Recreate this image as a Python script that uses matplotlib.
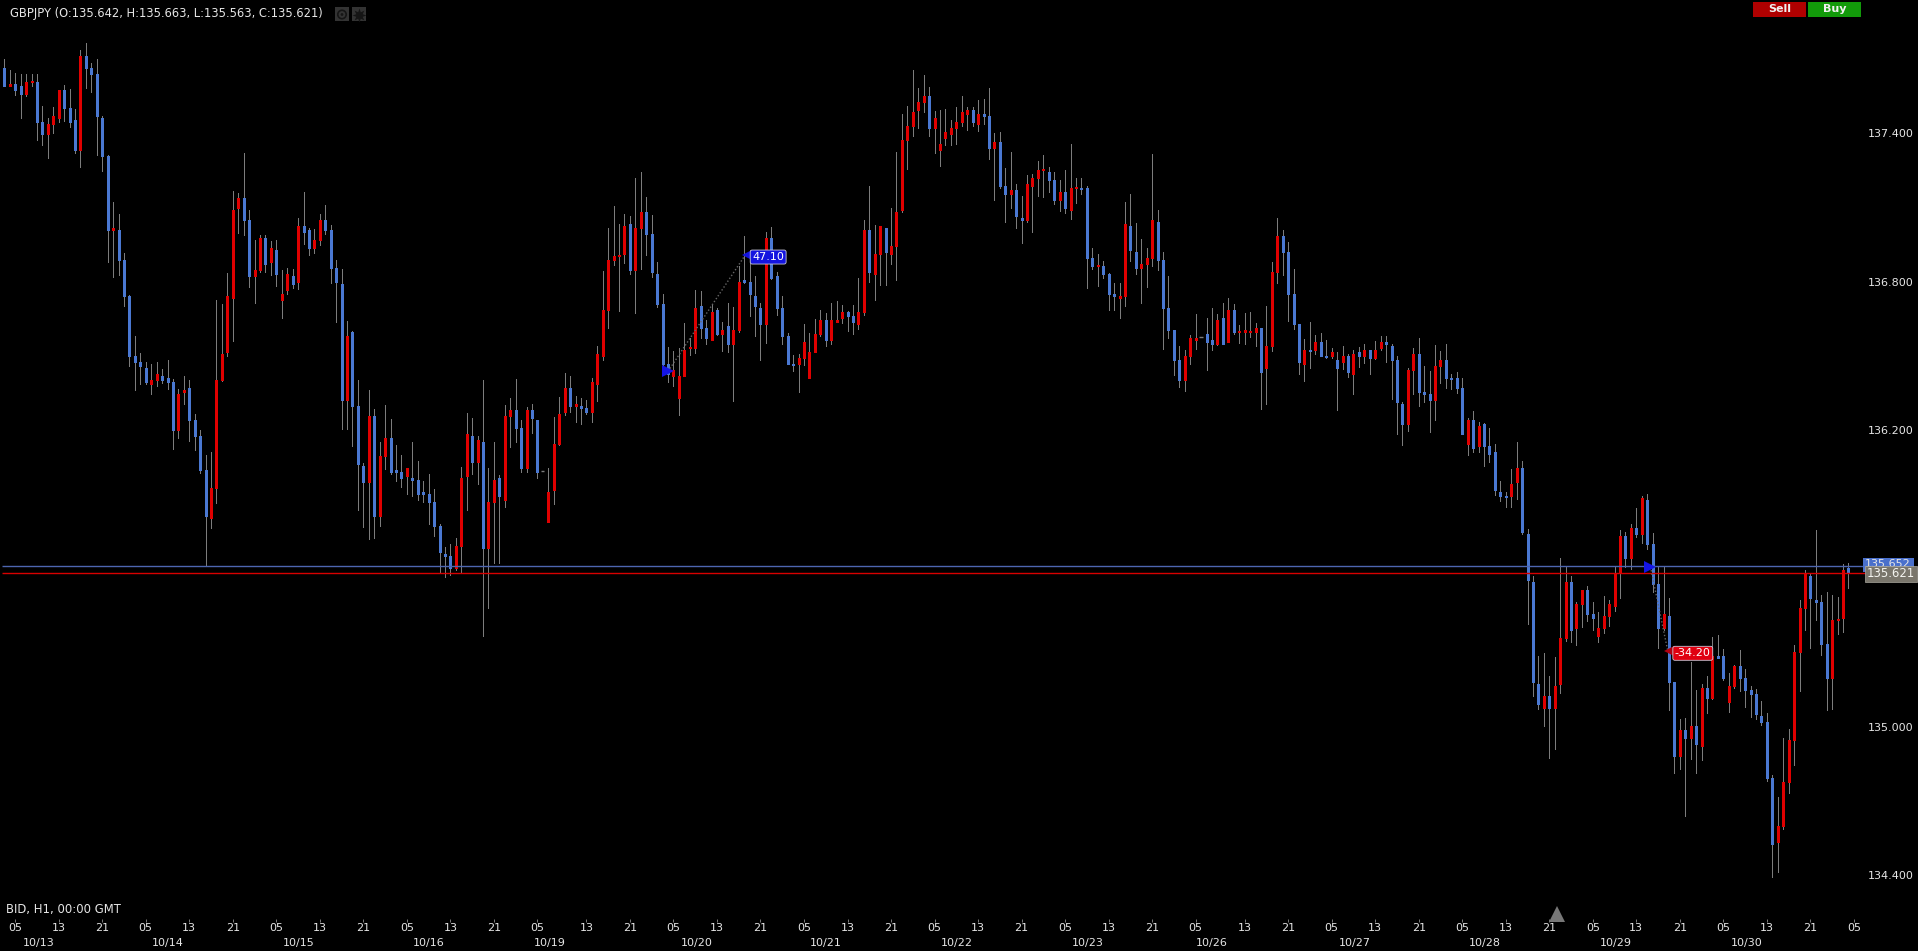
import numpy as np
import matplotlib
matplotlib.use("Agg")
import matplotlib.pyplot as plt
from matplotlib.patches import Rectangle, Circle

W, H = 1918, 951

#candle data, hourly bars
highs = [
137.700,137.657,137.643,137.641,137.641,137.641,137.641,137.511,137.463,137.507,
137.576,137.596,137.580,137.499,137.738,137.766,137.684,137.700,137.471,137.313,
137.123,137.075,136.917,136.747,136.580,136.510,136.475,136.467,136.475,136.447,
136.483,136.407,136.366,136.419,136.402,136.265,136.200,136.099,136.111,136.726,
136.710,136.834,137.168,137.160,137.321,137.091,136.969,136.990,136.990,136.965,
136.969,136.848,136.856,136.852,137.058,137.164,137.018,137.014,137.075,137.111,
137.030,136.889,136.852,136.641,136.601,136.402,136.067,136.362,136.285,136.152,
136.301,136.245,136.140,136.099,136.047,136.152,136.075,135.994,136.022,135.962,
135.820,135.727,135.739,135.764,136.051,136.269,136.249,136.176,136.403,136.047,
136.152,136.018,136.301,136.330,136.407,136.241,136.293,136.306,136.241,136.033,
136.047,136.253,136.334,136.431,136.419,136.338,136.330,136.322,136.411,136.540,
136.844,137.018,137.107,137.034,137.074,137.066,137.220,137.244,137.143,137.070,
136.880,136.751,136.536,136.520,136.532,136.633,136.573,136.767,136.763,136.646,
136.706,136.694,136.637,136.714,136.698,136.864,136.985,136.929,136.823,136.714,
137.001,137.022,136.840,136.743,136.593,136.504,136.508,136.629,136.593,136.650,
136.686,136.674,136.714,136.722,136.706,136.682,136.706,136.815,137.050,137.187,
137.030,137.026,137.018,137.098,137.325,137.479,137.512,137.657,137.584,137.637,
137.588,137.491,137.495,137.499,137.455,137.507,137.552,137.507,137.507,137.536,
137.540,137.584,137.402,137.406,137.261,137.326,137.196,137.148,137.233,137.237,
137.289,137.313,137.265,137.245,137.212,137.253,137.358,137.220,137.220,137.188,
136.937,136.913,136.885,136.836,136.796,136.796,137.123,137.156,137.038,136.974,
136.937,137.317,137.091,136.921,136.824,136.606,136.540,136.523,136.584,136.669,
136.575,136.653,136.693,136.669,136.714,136.734,136.710,136.625,136.673,136.677,
136.633,136.612,136.701,136.879,137.059,137.010,136.962,136.852,136.630,136.568,
136.637,136.584,136.592,136.564,136.532,136.516,136.541,136.508,136.524,136.537,
136.549,136.524,136.561,136.581,136.581,136.549,136.500,136.314,136.452,136.532,
136.573,136.460,136.439,136.545,136.520,136.549,136.427,136.435,136.411,136.249,
136.278,136.233,136.229,136.209,136.144,135.995,135.950,136.043,136.152,136.075,
135.800,135.610,135.287,135.299,135.206,135.282,135.683,135.646,135.610,135.505,
135.553,135.570,135.505,135.464,135.529,135.513,135.650,135.796,135.788,135.820,
135.885,135.934,135.942,135.784,135.646,135.650,135.521,135.180,135.031,135.035,
135.261,135.148,135.172,135.205,135.362,135.370,135.314,135.217,135.249,135.310,
135.233,135.164,135.152,135.104,135.055,134.804,134.715,134.954,134.990,135.330,
135.512,135.634,135.618,135.796,135.533,135.545,135.533,135.525,135.659,135.663]

lows = [
137.590,137.592,137.556,137.463,137.552,137.592,137.374,137.354,137.301,137.402,
137.447,137.451,137.426,137.321,137.265,137.584,137.568,137.313,137.248,136.880,
136.820,136.828,136.703,136.459,136.362,136.386,136.386,136.346,136.378,136.390,
136.366,136.123,136.168,136.305,136.156,136.119,136.026,135.653,135.804,135.905,
136.398,136.500,136.560,136.998,136.990,136.779,136.715,136.840,136.840,136.828,
136.783,136.654,136.751,136.775,136.771,136.953,136.909,136.917,136.949,136.994,
136.796,136.638,136.204,136.204,136.136,135.877,135.808,135.759,135.764,135.812,
136.043,136.022,135.994,135.970,135.941,135.933,135.917,135.909,135.820,135.772,
135.621,135.606,135.614,135.635,135.626,135.877,136.022,135.982,135.367,135.481,
135.663,135.663,135.889,136.132,136.152,136.031,136.031,136.188,136.006,136.033,
135.828,135.901,136.140,136.261,136.273,136.233,136.225,136.265,136.233,136.318,
136.484,136.613,136.868,136.682,136.876,136.832,136.674,136.852,136.908,136.819,
136.698,136.443,136.395,136.379,136.261,136.419,136.504,136.512,136.573,136.548,
136.565,136.585,136.520,136.516,136.318,136.597,136.795,136.662,136.581,136.484,
136.553,136.811,136.666,136.548,136.468,136.439,136.354,136.464,136.411,136.516,
136.581,136.540,136.548,136.637,136.633,136.601,136.589,136.609,136.666,136.799,
136.726,136.787,136.787,136.872,136.807,137.083,137.257,137.390,137.423,137.487,
137.390,137.321,137.269,137.354,137.354,137.358,137.431,137.414,137.431,137.410,
137.439,137.297,137.131,137.180,137.042,137.099,137.018,136.958,137.042,137.002,
137.148,137.144,137.164,137.115,137.087,137.079,137.055,137.119,137.156,136.776,
136.852,136.784,136.816,136.687,136.687,136.654,136.703,136.885,136.832,136.715,
136.780,136.865,136.848,136.529,136.573,136.424,136.374,136.358,136.467,136.528,
136.575,136.443,136.523,136.544,136.548,136.556,136.588,136.552,136.548,136.576,
136.540,136.285,136.305,136.519,136.796,136.828,136.642,136.610,136.428,136.398,
136.451,136.507,136.499,136.491,136.492,136.282,136.448,136.415,136.346,136.456,
136.472,136.427,136.488,136.524,136.476,136.326,136.185,136.140,136.197,136.346,
136.298,136.314,136.193,136.241,136.391,136.371,136.367,136.351,136.185,136.100,
136.112,136.112,136.055,136.071,135.938,135.914,135.890,135.890,135.922,135.780,
135.416,135.125,135.072,135.003,134.874,134.910,135.137,135.347,135.343,135.331,
135.404,135.428,135.392,135.343,135.380,135.408,135.468,135.521,135.646,135.638,
135.768,135.743,135.719,135.545,135.319,135.392,135.068,134.812,134.829,134.639,
134.869,134.812,134.865,135.055,135.112,135.277,135.188,135.059,135.156,135.144,
135.079,135.039,135.031,135.006,134.780,134.392,134.412,134.586,134.732,134.845,
135.144,135.392,135.319,135.432,135.291,135.068,135.072,135.375,135.384,135.563]

opens = [
137.665,137.592,137.600,137.592,137.560,137.608,137.608,137.447,137.398,137.439,
137.463,137.576,137.503,137.455,137.333,137.714,137.665,137.641,137.463,137.309,
137.010,137.010,136.889,136.743,136.500,136.475,136.451,136.386,136.402,136.419,
136.411,136.394,136.200,136.354,136.370,136.241,136.176,136.039,135.844,135.966,
136.402,136.516,136.735,137.099,137.139,137.050,136.824,136.848,136.978,136.880,
136.929,136.727,136.767,136.824,136.800,137.026,137.010,136.937,136.969,137.050,
137.010,136.856,136.792,136.322,136.597,136.297,136.055,135.990,136.257,135.853,
136.095,136.168,136.039,136.030,136.014,136.006,135.998,135.950,135.941,135.909,
135.812,135.699,135.691,135.642,135.731,136.014,136.176,136.071,136.152,135.723,
135.909,136.006,135.917,136.257,136.281,136.208,136.047,136.281,136.241,136.033,
135.828,135.958,136.144,136.273,136.370,136.297,136.297,136.289,136.273,136.387,
136.500,136.686,136.888,136.904,136.912,137.034,136.848,137.018,137.082,136.993,
136.832,136.710,136.468,136.419,136.330,136.419,136.532,136.532,136.702,136.613,
136.565,136.686,136.589,136.621,136.548,136.605,136.807,136.799,136.743,136.694,
136.629,136.977,136.823,136.694,136.581,136.468,136.468,136.492,136.411,136.516,
136.589,136.646,136.565,136.637,136.654,136.678,136.662,136.629,136.678,137.009,
136.832,136.912,137.018,136.912,136.945,137.091,137.374,137.431,137.495,137.528,
137.552,137.423,137.334,137.382,137.398,137.423,137.447,137.479,137.495,137.439,
137.479,137.471,137.342,137.366,137.188,137.156,137.172,137.059,137.051,137.188,
137.220,137.253,137.245,137.212,137.131,137.164,137.091,137.180,137.180,137.180,
136.897,136.865,136.865,136.832,136.751,136.735,136.743,137.026,136.921,136.856,
136.873,136.897,137.042,136.889,136.695,136.606,136.483,136.402,136.499,136.564,
136.575,136.588,136.564,136.548,136.653,136.556,136.685,136.596,136.596,136.596,
136.596,136.612,136.451,136.540,136.840,136.986,136.921,136.751,136.630,136.467,
136.523,136.523,136.556,136.499,136.500,136.484,136.476,136.500,136.427,136.516,
136.500,136.524,136.492,136.532,136.557,136.541,136.484,136.306,136.225,136.444,
136.508,136.355,136.346,136.322,136.460,136.484,136.411,136.411,136.371,136.144,
136.241,136.136,136.225,136.136,136.112,135.950,135.934,135.934,135.991,136.047,
135.780,135.586,135.173,135.076,135.125,135.076,135.173,135.359,135.586,135.400,
135.497,135.553,135.456,135.367,135.400,135.448,135.489,135.626,135.772,135.683,
135.804,135.780,135.917,135.739,135.578,135.400,135.448,135.180,134.881,134.986,
134.954,135.002,134.922,135.156,135.116,135.286,135.286,135.100,135.164,135.245,
135.197,135.148,135.132,135.043,135.019,134.792,134.533,134.598,134.776,134.946,
135.302,135.481,135.610,135.513,135.505,135.335,135.198,135.432,135.440,135.642]

closes = [
137.592,137.600,137.576,137.560,137.608,137.612,137.447,137.398,137.439,137.471,
137.576,137.503,137.447,137.333,137.714,137.665,137.641,137.471,137.309,137.010,
137.018,136.889,136.743,136.500,136.475,136.459,136.394,136.402,136.427,136.402,
136.394,136.200,136.346,136.362,136.241,136.176,136.039,135.853,135.966,136.402,
136.508,136.742,137.091,137.139,137.050,136.824,136.848,136.978,136.872,136.937,
136.832,136.751,136.832,136.792,137.026,137.002,136.937,136.969,137.050,137.010,
136.856,136.800,136.322,136.580,136.297,136.063,135.990,136.257,135.853,136.095,
136.168,136.030,136.030,136.006,136.047,135.998,135.941,135.941,135.909,135.812,
135.707,135.691,135.642,135.731,136.006,136.184,136.071,136.160,135.723,135.909,
135.998,135.933,136.257,136.281,136.208,136.047,136.281,136.249,136.031,136.033,
135.950,136.144,136.265,136.370,136.297,136.306,136.289,136.273,136.394,136.508,
136.686,136.888,136.904,136.908,137.026,136.848,137.018,137.082,136.993,136.840,
136.710,136.468,136.427,136.443,136.419,136.524,136.536,136.694,136.613,136.573,
136.678,136.589,136.605,136.548,136.605,136.799,136.799,136.751,136.702,136.629,
136.977,136.815,136.694,136.581,136.468,136.464,136.492,136.557,136.516,136.589,
136.646,136.565,136.646,136.646,136.678,136.662,136.637,136.678,137.009,136.840,
136.912,137.026,136.921,136.945,137.082,137.374,137.431,137.487,137.528,137.552,
137.423,137.463,137.358,137.406,137.423,137.447,137.487,137.495,137.447,137.479,
137.471,137.342,137.366,137.188,137.156,137.172,137.067,137.051,137.196,137.220,
137.253,137.257,137.212,137.131,137.164,137.099,137.180,137.184,137.176,136.897,
136.865,136.869,136.832,136.751,136.743,136.743,137.034,136.929,136.856,136.873,
136.897,137.051,136.889,136.695,136.606,136.484,136.402,136.499,136.572,136.572,
136.575,136.556,136.548,136.645,136.548,136.685,136.596,136.600,136.604,136.600,
136.612,136.435,136.540,136.839,136.986,136.921,136.751,136.630,136.476,136.523,
136.519,136.556,136.499,136.495,136.516,136.452,136.500,136.435,136.508,136.500,
136.524,136.492,136.524,136.557,136.549,136.484,136.314,136.225,136.444,136.508,
136.355,136.346,136.322,136.460,136.484,136.411,136.407,136.371,136.185,136.241,
136.128,136.217,136.136,136.104,135.958,135.934,135.930,135.983,136.047,135.788,
135.594,135.181,135.092,135.125,135.076,135.165,135.359,135.586,135.392,135.497,
135.553,135.456,135.440,135.400,135.448,135.497,135.618,135.772,135.683,135.804,
135.780,135.925,135.739,135.578,135.400,135.456,135.181,134.881,134.986,134.954,
135.002,134.930,135.156,135.116,135.286,135.277,135.197,135.164,135.245,135.197,
135.148,135.132,135.051,135.019,134.792,134.525,134.598,134.776,134.946,135.302,
135.480,135.618,135.521,135.505,135.335,135.198,135.432,135.436,135.634,135.621]

#axis labels
price_ticks = [134.4, 135.0, 136.2, 136.8, 137.4]
hour_ticks = list(range(2, 99, 8)) + list(range(107, 220, 8)) + list(range(228, 341, 8))
hour_names = ["05", "13", "21"]
date_names = ["10/13","10/14","10/15","10/16","10/19","10/20","10/21",
              "10/22","10/23","10/26","10/27","10/28","10/29","10/30"]
date_bars = [6.3,30.1,54.2,78,100.3,127.3,151,175.1,199.2,222,248.3,272.2,296.3,320.3]

#ask / bid lines
ask_price = 135.652
bid_price = 135.621

#closed trades: (entry bar, entry price, exit bar, exit price, label)
trade_a = (122, 136.437, 136.2, 136.908, "47.10")
trade_b = (302.6, 135.647, 305.8, 135.305, "-34.20")

BLUE = "#4a78d2"
RED = "#e00000"
WICK = "#7c7c7c"
TEXT = "#e6e6e6"
FONT = "DejaVu Sans"
FS = 8

plt.rcParams["font.family"] = FONT
fig = plt.figure(figsize=(W / 100, H / 100), dpi=100, facecolor="black")
ax = fig.add_axes([0, (H - 919) / H, 1866 / W, 919 / H], facecolor="black")
ax.set_xlim((0 - 4.3) / 5.44, (1866 - 4.3) / 5.44)
ax.set_ylim(135 + (726.7 - 919) / 247.2, 135 + 726.7 / 247.2)
for s in ax.spines.values():
    s.set_visible(False)

o = np.array(opens)
c = np.array(closes)
h = np.array(highs)
l = np.array(lows)
x = np.arange(len(o))

#widths a hair under 1 and 3 pixels, 0.72 and 2.16 round up and the snapping goes off centre
ax.vlines(x, l, h, colors=WICK, linewidth=0.715, antialiased=False, zorder=2)
colors = np.where(c > o, RED, BLUE)
solid = c != o
ax.vlines(x[solid], np.minimum(o, c)[solid], np.maximum(o, c)[solid], colors=colors[solid],
          linewidth=2.15, capstyle="butt", antialiased=False, zorder=3)
ax.hlines(o[~solid], x[~solid] - 0.3, x[~solid] + 0.3, colors=WICK, linewidth=1.0, zorder=3)

ax.hlines(ask_price, -0.42, ax.get_xlim()[1], colors="#4d66b0", linewidth=1.0, zorder=4)
ax.hlines(bid_price, -0.42, ax.get_xlim()[1], colors="#d80000", linewidth=1.0, zorder=4)

ax.yaxis.tick_right()
ax.set_yticks(price_ticks)
ax.set_yticklabels(["%.3f" % p for p in price_ticks], color=TEXT, fontsize=FS)
ax.tick_params(axis="y", length=0, pad=1)
ax.set_xticks(hour_ticks)
ax.set_xticklabels([hour_names[i % 3] for i in range(len(hour_ticks))], color=TEXT, fontsize=FS)
ax.tick_params(axis="x", length=2.2, width=0.72, color="#777777", pad=1)

for name, bar in zip(date_names, date_bars):
    ax.annotate(name, xy=(bar, 0), xycoords=("data", "axes fraction"), xytext=(0, -24),
                textcoords="offset pixels", ha="center", va="center", color=TEXT,
                fontsize=FS, annotation_clip=False)

#trades
for (x0, p0, x1, p1, label), box, edge in ((trade_a, "#1414e0", "#1414e0"), (trade_b, "#e00010", "#b00010")):
    ax.plot([x0, x1], [p0, p1], color="#666666", lw=1, ls=(0, (1, 1.5)), zorder=5)
    ax.plot([x0], [p0], marker=">", ms=8, color="#1414e6", mew=0, zorder=6)
    ax.plot([x1 + 0.3], [p1], marker="<", ms=7, color=edge, mew=0, zorder=6)
    ax.annotate(label, xy=(x1, p1), xytext=(7, -2), textcoords="offset pixels", ha="left", va="center",
                color="white", fontsize=FS, zorder=7,
                bbox=dict(boxstyle="round,pad=0.18", fc=box, ec="#c8c8d8", lw=0.6))

#overlay in pixel coords for the window furniture
ui = fig.add_axes([0, 0, 1, 1], facecolor="none")
ui.set_xlim(0, W)
ui.set_ylim(H, 0)
ui.axis("off")

ui.text(10, 14, "GBPJPY (O:135.642, H:135.663, L:135.563, C:135.621)", color=TEXT, fontsize=8.3, va="center")
ui.text(6, 910, "BID, H1, 00:00 GMT", color=TEXT, fontsize=8.4, va="center")
ui.add_patch(Rectangle((335, 7), 14, 14, fc="#333333", ec="none"))
ui.add_patch(Rectangle((352, 7), 14, 14, fc="#333333", ec="none"))
ui.add_patch(Circle((342, 14.5), 4.2, fc="none", ec="#151515", lw=1.2))
ui.add_patch(Circle((342, 14.5), 1.4, fc="#151515", ec="none"))
ui.plot([359], [14.5], marker=(8, 1, 0), ms=10, color="#151515", mew=0)

ui.add_patch(Rectangle((1753, 2), 53, 15, fc="#b00000", ec="none"))
ui.add_patch(Rectangle((1808, 2), 53, 15, fc="#129a0a", ec="none"))
ui.text(1779.5, 9, "Sell", color="#f0f0f0", fontsize=FS, weight="bold", ha="center", va="center")
ui.text(1834.5, 9, "Buy", color="#f0f0f0", fontsize=FS, weight="bold", ha="center", va="center")

ui.add_patch(Rectangle((1863, 558), 51, 14, fc="#4a70cc", ec="none", zorder=2))
ui.text(1888, 564, "135.652", color=TEXT, fontsize=FS, ha="center", va="center", zorder=3)
ui.add_patch(Rectangle((1865, 566), 52, 16, fc="#7a766c", ec="#aaa79e", lw=0.5, zorder=4))
ui.text(1891, 573.5, "135.621", color="#f4f4f0", fontsize=8.4, ha="center", va="center", zorder=5)

ui.plot([1557], [914], marker="^", ms=11, color="#777777", mew=0)

fig.savefig("out.png", dpi=100, facecolor="black")
